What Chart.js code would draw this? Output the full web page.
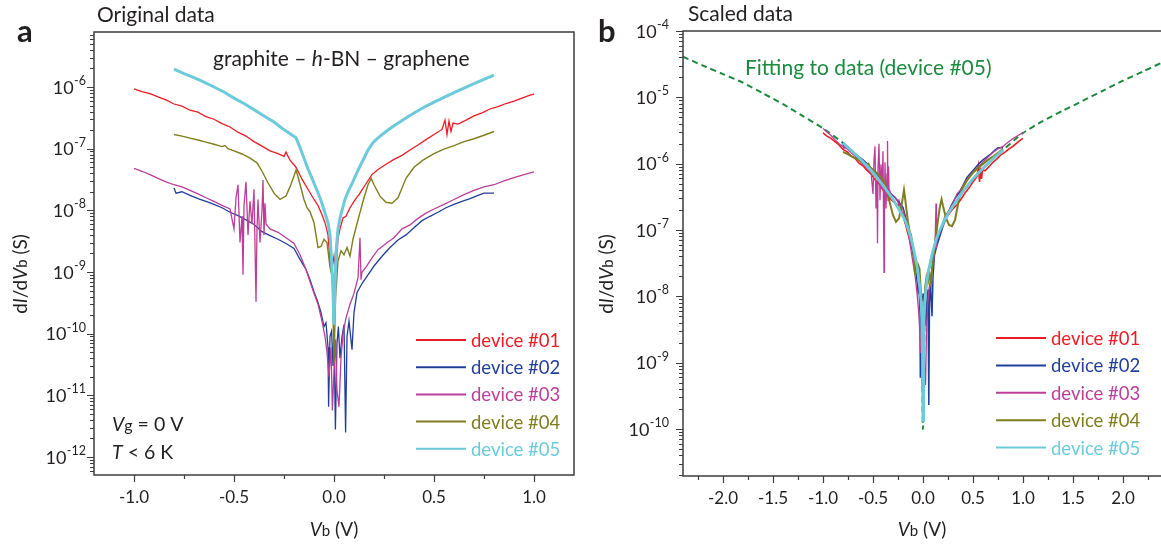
<!DOCTYPE html>
<html>
<head>
<meta charset="utf-8">
<title>dI/dVb vs Vb</title>
<script src="https://cdn.jsdelivr.net/npm/chart.js@4.4.1/dist/chart.umd.min.js"></script>
<style>
  html, body { margin: 0; padding: 0; background: #fff; overflow: hidden; }
  #wrap { position: relative; width: 1161px; height: 545px; overflow: hidden; }
  #chart-a { position: absolute; left: 0; top: 0; }
  #chart-b { position: absolute; left: 580px; top: 0; }
</style>
</head>
<body>
<div id="wrap">
  <canvas id="chart-a" width="580" height="545"></canvas>
  <canvas id="chart-b" width="600" height="545"></canvas>
</div>
<script>
'use strict';

// *** Data (Vb in V, dI/dVb in S) ***

let deviceNames = ['device #01', 'device #02', 'device #03', 'device #04', 'device #05'];

// device #01
let vDev01 = [-1.00, -0.96, -0.92, -0.88, -0.84, -0.80, -0.76, -0.72, -0.68, -0.64, -0.60, -0.56, -0.52, -0.48, -0.44, -0.40, -0.36, -0.32, -0.28, -0.25, -0.24, -0.22, -0.19, -0.16, -0.13, -0.10, -0.08, -0.06, -0.045, -0.03, -0.02, -0.01, 0.00, 0.01, 0.02, 0.03, 0.045, 0.06, 0.08, 0.10, 0.13, 0.16, 0.19, 0.22, 0.26, 0.30, 0.34, 0.38, 0.42, 0.46, 0.50, 0.54, 0.555, 0.565, 0.575, 0.585, 0.595, 0.62, 0.66, 0.70, 0.74, 0.78, 0.82, 0.86, 0.90, 0.94, 0.98, 1.00];
let gDev01a = [9.3e-7, 8.4e-7, 7.8e-7, 6.9e-7, 6.2e-7, 5.3e-7, 4.9e-7, 4.2e-7, 3.9e-7, 3.3e-7, 3.0e-7, 2.55e-7, 2.25e-7, 1.85e-7, 1.6e-7, 1.3e-7, 1.1e-7, 9.2e-8, 8.3e-8, 7.5e-8, 8.8e-8, 6.5e-8, 5.0e-8, 3.2e-8, 2.2e-8, 1.5e-8, 1.2e-8, 8.5e-9, 6.3e-9, 4.0e-9, 1.5e-9, 1.1e-9, 1.8e-9, 1.0e-9, 3.5e-9, 5.0e-9, 7.5e-9, 8.0e-9, 1.1e-8, 1.4e-8, 1.9e-8, 2.7e-8, 3.8e-8, 4.6e-8, 5.6e-8, 6.7e-8, 7.8e-8, 9.5e-8, 1.15e-7, 1.4e-7, 1.7e-7, 2.05e-7, 2.9e-7, 1.7e-7, 2.8e-7, 1.9e-7, 2.6e-7, 2.5e-7, 2.9e-7, 3.4e-7, 3.8e-7, 4.4e-7, 4.8e-7, 5.4e-7, 5.9e-7, 6.6e-7, 7.4e-7, 7.7e-7];
let gDev01b = [2.9e-6, 2.6e-6, 2.4e-6, 2.14e-6, 1.92e-6, 1.64e-6, 1.52e-6, 1.3e-6, 1.21e-6, 1.02e-6, 9.3e-7, 7.9e-7, 7.0e-7, 5.7e-7, 5.0e-7, 4.0e-7, 3.4e-7, 2.85e-7, 2.57e-7, 2.3e-7, 2.7e-7, 2.0e-7, 1.55e-7, 9.9e-8, 6.8e-8, 4.65e-8, 3.7e-8, 2.6e-8, 1.95e-8, 1.24e-8, 4.6e-9, 3.4e-9, 5.6e-9, 3.1e-9, 1.1e-8, 1.55e-8, 2.3e-8, 2.5e-8, 3.4e-8, 4.3e-8, 5.9e-8, 8.4e-8, 1.18e-7, 1.43e-7, 1.74e-7, 2.1e-7, 2.4e-7, 2.9e-7, 3.6e-7, 4.3e-7, 5.3e-7, 6.4e-7, 9.0e-7, 5.3e-7, 8.7e-7, 5.9e-7, 8.1e-7, 7.8e-7, 9.0e-7, 1.05e-6, 1.18e-6, 1.36e-6, 1.49e-6, 1.67e-6, 1.83e-6, 2.05e-6, 2.3e-6, 2.4e-6];

// device #02
let vDev02 = [-0.80, -0.79, -0.76, -0.72, -0.68, -0.64, -0.60, -0.56, -0.52, -0.48, -0.44, -0.40, -0.36, -0.32, -0.28, -0.24, -0.20, -0.17, -0.14, -0.12, -0.10, -0.08, -0.065, -0.05, -0.04, -0.03, -0.027, -0.02, -0.012, -0.005, 0.000, 0.007, 0.015, 0.022, 0.030, 0.040, 0.050, 0.058, 0.065, 0.075, 0.090, 0.100, 0.115, 0.14, 0.17, 0.20, 0.24, 0.28, 0.32, 0.36, 0.40, 0.44, 0.48, 0.52, 0.56, 0.60, 0.64, 0.68, 0.72, 0.75, 0.80];
let gDev02a = [2.3e-8, 1.9e-8, 2.0e-8, 1.75e-8, 1.55e-8, 1.4e-8, 1.25e-8, 1.1e-8, 9.3e-9, 8.2e-9, 7.0e-9, 5.9e-9, 4.5e-9, 3.9e-9, 3.4e-9, 2.9e-9, 2.4e-9, 1.6e-9, 1.1e-9, 7.5e-10, 4.8e-10, 3.2e-10, 2.2e-10, 1.3e-10, 1.5e-10, 6.0e-11, 6.5e-12, 9.0e-11, 1.1e-10, 3.0e-11, 1.2e-10, 2.8e-12, 7.0e-11, 1.3e-10, 4.0e-11, 9.0e-11, 1.4e-10, 2.5e-12, 9.0e-11, 1.6e-10, 5.5e-11, 2.2e-10, 4.6e-10, 6.5e-10, 9.0e-10, 1.25e-9, 1.8e-9, 2.5e-9, 3.3e-9, 4.0e-9, 5.2e-9, 6.8e-9, 8.0e-9, 9.3e-9, 1.1e-8, 1.25e-8, 1.4e-8, 1.55e-8, 1.75e-8, 1.9e-8, 1.9e-8];
let gDev02b = [2.1e-6, 1.73e-6, 1.82e-6, 1.6e-6, 1.41e-6, 1.27e-6, 1.14e-6, 1.0e-6, 8.5e-7, 7.5e-7, 6.4e-7, 5.4e-7, 4.1e-7, 3.5e-7, 3.1e-7, 2.6e-7, 2.2e-7, 1.46e-7, 1.0e-7, 6.8e-8, 4.4e-8, 2.9e-8, 2.0e-8, 1.18e-8, 1.37e-8, 5.5e-9, 5.9e-10, 8.2e-9, 1.0e-8, 2.7e-9, 1.1e-8, 2.5e-10, 6.4e-9, 1.18e-8, 3.6e-9, 8.2e-9, 1.27e-8, 2.3e-10, 8.2e-9, 1.46e-8, 5.0e-9, 2.0e-8, 4.2e-8, 5.9e-8, 8.2e-8, 1.14e-7, 1.64e-7, 2.3e-7, 3.0e-7, 3.6e-7, 4.7e-7, 6.2e-7, 7.3e-7, 8.5e-7, 1.0e-6, 1.14e-6, 1.27e-6, 1.41e-6, 1.6e-6, 1.73e-6, 1.73e-6];

// device #03
let vDev03 = [-1.00, -0.96, -0.92, -0.88, -0.84, -0.80, -0.76, -0.72, -0.68, -0.64, -0.60, -0.56, -0.52, -0.50, -0.49, -0.48, -0.47, -0.46, -0.455, -0.45, -0.44, -0.43, -0.42, -0.41, -0.40, -0.39, -0.385, -0.38, -0.37, -0.36, -0.355, -0.35, -0.345, -0.34, -0.32, -0.28, -0.24, -0.20, -0.17, -0.14, -0.12, -0.10, -0.08, -0.06, -0.045, -0.035, -0.025, -0.015, -0.008, 0.000, 0.008, 0.015, 0.025, 0.035, 0.045, 0.06, 0.08, 0.10, 0.12, 0.13, 0.135, 0.14, 0.16, 0.19, 0.22, 0.26, 0.30, 0.34, 0.38, 0.42, 0.46, 0.50, 0.55, 0.60, 0.65, 0.70, 0.75, 0.80, 0.85, 0.90, 0.95, 1.00];
let gDev03a = [4.8e-8, 4.3e-8, 3.8e-8, 3.3e-8, 2.9e-8, 2.6e-8, 2.4e-8, 2.1e-8, 1.85e-8, 1.6e-8, 1.4e-8, 1.2e-8, 1.05e-8, 5.0e-9, 1.6e-8, 2.6e-8, 3.0e-9, 8.0e-9, 9.0e-10, 1.2e-8, 2.9e-8, 4.0e-9, 1.4e-8, 6.0e-9, 2.2e-8, 3.3e-10, 5.0e-9, 1.5e-8, 3.0e-9, 1.0e-8, 3.1e-8, 4.0e-9, 1.3e-8, 6.0e-9, 5.0e-9, 4.4e-9, 3.6e-9, 2.9e-9, 1.9e-9, 1.1e-9, 7.0e-10, 4.5e-10, 3.0e-10, 1.6e-10, 9.0e-11, 5.0e-11, 2.0e-11, 6.0e-11, 5.7e-12, 2.5e-11, 8.0e-11, 1.2e-11, 6.5e-12, 4.0e-11, 1.0e-10, 1.8e-10, 3.0e-10, 4.5e-10, 8.0e-10, 3.6e-9, 7.5e-10, 1.0e-9, 1.2e-9, 1.7e-9, 2.3e-9, 2.9e-9, 3.6e-9, 5.0e-9, 5.8e-9, 7.4e-9, 9.0e-9, 1.05e-8, 1.25e-8, 1.5e-8, 1.8e-8, 2.1e-8, 2.4e-8, 2.6e-8, 3.0e-8, 3.4e-8, 3.8e-8, 4.2e-8];
let gDev03b = [3.4e-6, 3.0e-6, 2.66e-6, 2.3e-6, 2.0e-6, 1.82e-6, 1.68e-6, 1.47e-6, 1.3e-6, 1.12e-6, 9.8e-7, 8.4e-7, 7.4e-7, 3.5e-7, 1.12e-6, 1.82e-6, 2.1e-7, 5.6e-7, 6.3e-8, 8.4e-7, 2.0e-6, 2.8e-7, 9.8e-7, 4.2e-7, 1.54e-6, 2.3e-8, 3.5e-7, 1.05e-6, 2.1e-7, 7.0e-7, 2.2e-6, 2.8e-7, 9.1e-7, 4.2e-7, 3.5e-7, 3.1e-7, 2.5e-7, 2.0e-7, 1.33e-7, 7.7e-8, 4.9e-8, 3.2e-8, 2.1e-8, 1.12e-8, 6.3e-9, 3.5e-9, 1.4e-9, 4.2e-9, 4.0e-10, 1.75e-9, 5.6e-9, 8.4e-10, 4.6e-10, 2.8e-9, 7.0e-9, 1.26e-8, 2.1e-8, 3.2e-8, 5.6e-8, 2.5e-7, 5.3e-8, 7.0e-8, 8.4e-8, 1.19e-7, 1.61e-7, 2.0e-7, 2.5e-7, 3.5e-7, 4.1e-7, 5.2e-7, 6.3e-7, 7.4e-7, 8.8e-7, 1.05e-6, 1.26e-6, 1.47e-6, 1.68e-6, 1.82e-6, 2.1e-6, 2.4e-6, 2.66e-6, 2.94e-6];

// device #04
let vDev04 = [-0.80, -0.76, -0.72, -0.68, -0.64, -0.60, -0.56, -0.545, -0.53, -0.50, -0.46, -0.42, -0.385, -0.36, -0.33, -0.30, -0.27, -0.24, -0.22, -0.20, -0.19, -0.18, -0.165, -0.15, -0.135, -0.12, -0.10, -0.08, -0.065, -0.05, -0.035, -0.02, -0.008, 0.000, 0.008, 0.02, 0.035, 0.05, 0.065, 0.08, 0.095, 0.12, 0.15, 0.17, 0.186, 0.20, 0.23, 0.26, 0.29, 0.32, 0.36, 0.40, 0.445, 0.50, 0.55, 0.60, 0.65, 0.70, 0.75, 0.80];
let gDev04a = [1.7e-7, 1.6e-7, 1.48e-7, 1.38e-7, 1.28e-7, 1.18e-7, 1.08e-7, 1.12e-7, 1.0e-7, 9.2e-8, 8.2e-8, 7.0e-8, 5.9e-8, 4.3e-8, 2.8e-8, 1.9e-8, 1.5e-8, 1.7e-8, 2.4e-8, 3.6e-8, 4.5e-8, 3.5e-8, 2.3e-8, 1.5e-8, 1.1e-8, 9.5e-9, 6.3e-9, 2.5e-9, 2.6e-9, 3.4e-9, 3.0e-9, 1.2e-9, 8.0e-10, 3.3e-11, 4.0e-10, 1.5e-9, 2.2e-9, 1.9e-9, 2.5e-9, 1.8e-9, 3.4e-9, 7.0e-9, 1.6e-8, 2.6e-8, 3.3e-8, 2.6e-8, 1.7e-8, 1.35e-8, 1.3e-8, 1.6e-8, 3.3e-8, 5.0e-8, 6.5e-8, 8.3e-8, 9.8e-8, 1.12e-7, 1.3e-7, 1.45e-7, 1.65e-7, 1.9e-7];
let gDev04b = [1.5e-6, 1.41e-6, 1.3e-6, 1.21e-6, 1.13e-6, 1.04e-6, 9.5e-7, 9.9e-7, 8.8e-7, 8.1e-7, 7.2e-7, 6.2e-7, 5.2e-7, 3.8e-7, 2.5e-7, 1.67e-7, 1.32e-7, 1.5e-7, 2.1e-7, 3.2e-7, 4.0e-7, 3.1e-7, 2.0e-7, 1.32e-7, 9.7e-8, 8.4e-8, 5.5e-8, 2.2e-8, 2.3e-8, 3.0e-8, 2.6e-8, 1.06e-8, 7.0e-9, 2.9e-10, 3.5e-9, 1.32e-8, 1.94e-8, 1.67e-8, 2.2e-8, 1.58e-8, 3.0e-8, 6.2e-8, 1.41e-7, 2.3e-7, 2.9e-7, 2.3e-7, 1.5e-7, 1.19e-7, 1.14e-7, 1.41e-7, 2.9e-7, 4.4e-7, 5.7e-7, 7.3e-7, 8.6e-7, 9.9e-7, 1.14e-6, 1.28e-6, 1.45e-6, 1.67e-6];

// device #05
let vDev05 = [-0.80, -0.75, -0.70, -0.65, -0.60, -0.55, -0.50, -0.45, -0.40, -0.35, -0.30, -0.26, -0.22, -0.19, -0.17, -0.15, -0.13, -0.11, -0.09, -0.07, -0.055, -0.04, -0.03, -0.02, -0.012, -0.006, 0.000, 0.006, 0.012, 0.02, 0.03, 0.04, 0.055, 0.07, 0.09, 0.11, 0.13, 0.15, 0.17, 0.195, 0.22, 0.26, 0.30, 0.35, 0.40, 0.45, 0.50, 0.55, 0.60, 0.65, 0.70, 0.75, 0.80];
let gDev05a = [1.95e-6, 1.65e-6, 1.42e-6, 1.2e-6, 1.0e-6, 8.3e-7, 6.6e-7, 5.4e-7, 4.3e-7, 3.4e-7, 2.7e-7, 2.15e-7, 1.75e-7, 1.5e-7, 1.05e-7, 7.0e-8, 4.7e-8, 3.3e-8, 2.3e-8, 1.6e-8, 1.15e-8, 8.0e-9, 6.3e-9, 4.0e-9, 1.5e-9, 6.0e-10, 1.4e-10, 8.0e-10, 2.5e-9, 5.0e-9, 7.5e-9, 1.0e-8, 1.5e-8, 2.0e-8, 2.7e-8, 3.8e-8, 5.2e-8, 7.0e-8, 9.5e-8, 1.25e-7, 1.5e-7, 1.9e-7, 2.35e-7, 3.0e-7, 3.8e-7, 4.7e-7, 5.7e-7, 6.8e-7, 8.1e-7, 9.6e-7, 1.13e-6, 1.33e-6, 1.56e-6];
let gDev05b = [2.05e-6, 1.75e-6, 1.5e-6, 1.27e-6, 1.07e-6, 8.9e-7, 7.3e-7, 5.9e-7, 4.7e-7, 3.7e-7, 2.9e-7, 2.3e-7, 1.8e-7, 1.5e-7, 1.3e-7, 1.05e-7, 8.5e-8, 6.5e-8, 4.8e-8, 3.4e-8, 2.5e-8, 1.7e-8, 1.25e-8, 8.5e-9, 4.5e-9, 1.5e-9, 1.35e-10, 1.8e-9, 5.0e-9, 9.0e-9, 1.3e-8, 1.75e-8, 2.4e-8, 3.1e-8, 4.2e-8, 5.5e-8, 7.0e-8, 8.5e-8, 1.0e-7, 1.2e-7, 1.45e-7, 1.85e-7, 2.3e-7, 2.95e-7, 3.8e-7, 4.8e-7, 5.9e-7, 7.1e-7, 8.5e-7, 1.0e-6, 1.18e-6, 1.38e-6, 1.6e-6];

// fitting curve (device #05), panel b
let vFit = [-2.4, -2.2, -2.0, -1.8, -1.6, -1.4, -1.2, -1.0, -0.8, -0.6, -0.4, -0.3, -0.2, -0.1, -0.05, -0.02, 0.0, 0.02, 0.05, 0.1, 0.2, 0.3, 0.4, 0.6, 0.8, 1.0, 1.2, 1.4, 1.6, 1.8, 2.0, 2.2, 2.4];
let gFit = [4.1e-5, 3.0e-5, 2.24e-5, 1.66e-5, 1.15e-5, 7.9e-6, 5.2e-6, 3.4e-6, 2.05e-6, 1.07e-6, 4.7e-7, 2.9e-7, 1.6e-7, 5.5e-8, 2.2e-8, 8.5e-9, 1.0e-10, 9.0e-9, 2.2e-8, 4.8e-8, 1.25e-7, 2.3e-7, 3.8e-7, 8.5e-7, 1.6e-6, 2.9e-6, 4.4e-6, 6.3e-6, 8.9e-6, 1.26e-5, 1.78e-5, 2.45e-5, 3.4e-5];

// tick labels
let xTicksA = [-1.0, -0.5, 0.0, 0.5, 1.0];
let xTicksB = [-2.0, -1.5, -1.0, -0.5, 0.0, 0.5, 1.0, 1.5, 2.0];
let yDecadesA = [-12, -11, -10, -9, -8, -7, -6];
let yDecadesB = [-10, -9, -8, -7, -6, -5, -4];

// *** Styles ***

const FONT = 'Lato, "Open Sans", sans-serif';
const TEXT = '#231f20';
const AXIS = '#3d3d3d';
const FIT_GREEN = '#1b8a3e';

let deviceColors = ['#ec1c24', '#213f9a', '#bb3f98', '#7e7e1e', '#6ccadb'];
let widthsA = [1.3, 1.3, 1.3, 1.4, 3];
let widthsB = [1.6, 1.5, 1.3, 2, 2.8];
let drawOrder = [4, 3, 2, 1, 0];

// *** Helpers ***

function toPoints(v, g) {
  return v.map((x, i) => ({ x: x, y: g[i] }));
}

function fontOf(part, item) {
  let size = part.size || item.size;
  return (part.italic ? 'italic ' : '') + (part.bold ? 'bold ' : '') + size + 'px ' + FONT;
}

// draw a line of text made of parts with their own style
function drawRich(ctx, item) {
  ctx.save();
  ctx.translate(item.x, item.y);
  if (item.rotate) {
    ctx.rotate(item.rotate);
  }
  ctx.textBaseline = 'alphabetic';
  ctx.textAlign = 'left';
  ctx.fillStyle = item.color || TEXT;
  let total = 0;
  let widths = item.parts.map(p => {
    ctx.font = fontOf(p, item);
    let w = ctx.measureText(p.t).width;
    total += w;
    return w;
  });
  let x = item.align === 'center' ? -total / 2 : 0;
  item.parts.forEach((p, i) => {
    ctx.font = fontOf(p, item);
    ctx.fillText(p.t, x, p.dy || 0);
    x += widths[i];
  });
  ctx.restore();
}

// frame, outward tick marks, 10^n labels, legend and annotations
const figurePlugin = {
  id: 'figure',
  afterDraw(chart, args, opts) {
    let ctx = chart.ctx;
    let area = chart.chartArea;
    let xs = chart.scales.x;
    let ys = chart.scales.y;
    ctx.save();

    ctx.strokeStyle = AXIS;
    ctx.lineWidth = 1.2;
    ctx.beginPath();
    for (let k = Math.ceil(xs.min / 0.25 - 1e-9); k <= Math.floor(xs.max / 0.25 + 1e-9); k++) {
      let px = Math.round(xs.getPixelForValue(k * 0.25)) + 0.5;
      let len = k % 2 === 0 ? 7 : 4;
      ctx.moveTo(px, area.bottom);
      ctx.lineTo(px, area.bottom + len);
    }
    for (let e = Math.floor(Math.log10(ys.min)); e <= Math.ceil(Math.log10(ys.max)); e++) {
      for (let m = 1; m <= 9; m++) {
        let v = m * Math.pow(10, e);
        if (v < ys.min * 0.999 || v > ys.max * 1.001) {
          continue;
        }
        let py = Math.round(ys.getPixelForValue(v)) + 0.5;
        let len = m === 1 ? 7 : 4;
        ctx.moveTo(area.left - len, py);
        ctx.lineTo(area.left, py);
      }
    }
    ctx.stroke();

    ctx.lineWidth = 1.5;
    ctx.strokeRect(area.left, area.top, area.right - area.left, area.bottom - area.top);

    // y tick labels as 10 with raised exponent
    ctx.fillStyle = TEXT;
    ctx.textBaseline = 'middle';
    ctx.textAlign = 'left';
    opts.decades.forEach(e => {
      let py = ys.getPixelForValue(Math.pow(10, e));
      let sup = String(e);
      ctx.font = '12.5px ' + FONT;
      let supW = ctx.measureText(sup).width;
      ctx.font = '18px ' + FONT;
      let baseW = ctx.measureText('10').width;
      let right = area.left - opts.labelGap;
      ctx.fillText('10', right - supW - baseW - 0.5, py + 1);
      ctx.font = '12.5px ' + FONT;
      ctx.fillText(sup, right - supW, py - 6);
    });

    // legend
    let lg = opts.legend;
    let row = 0;
    chart.data.datasets.forEach(ds => {
      if (ds.isFit) {
        return;
      }
      let y = lg.y0 + row * lg.dy;
      ctx.strokeStyle = ds.borderColor;
      ctx.lineWidth = 2;
      ctx.beginPath();
      ctx.moveTo(lg.x1, y);
      ctx.lineTo(lg.x2, y);
      ctx.stroke();
      ctx.fillStyle = ds.borderColor;
      ctx.font = lg.size + 'px ' + FONT;
      ctx.textBaseline = 'middle';
      ctx.fillText(ds.label, lg.tx, y + 1);
      row++;
    });

    opts.texts.forEach(item => drawRich(ctx, item));
    ctx.restore();
  }
};

function chartOptions(cfg) {
  return {
    responsive: false,
    animation: false,
    devicePixelRatio: 1,
    parsing: false,
    layout: { padding: { left: 0, right: cfg.padRight, top: cfg.padTop, bottom: 0 } },
    plugins: {
      legend: { display: false },
      tooltip: { enabled: false },
      figure: cfg.figure
    },
    scales: {
      x: {
        type: 'linear',
        min: cfg.xMin,
        max: cfg.xMax,
        afterFit: s => { s.height = cfg.xHeight; },
        afterBuildTicks: s => { s.ticks = cfg.xTicks.map(v => ({ value: v })); },
        grid: { display: false, drawTicks: false },
        border: { display: false },
        ticks: {
          padding: 12,
          color: TEXT,
          font: { family: FONT, size: 17 },
          maxRotation: 0,
          autoSkip: false,
          callback: v => Number(v).toFixed(1)
        }
      },
      y: {
        type: 'logarithmic',
        min: cfg.yMin,
        max: cfg.yMax,
        afterFit: s => { s.width = cfg.yWidth; },
        grid: { display: false, drawTicks: false },
        border: { display: false },
        ticks: { display: false }
      }
    }
  };
}

function yTitle(x) {
  return {
    x: x, y: 274, size: 19, align: 'center', rotate: -Math.PI / 2,
    parts: [{ t: 'd' }, { t: 'I', italic: true }, { t: '/d' }, { t: 'V', italic: true }, { t: 'b', size: 15 }, { t: ' (S)' }]
  };
}

function xTitle(x) {
  return {
    x: x, y: 536, size: 19, align: 'center',
    parts: [{ t: 'V', italic: true }, { t: 'b', size: 15 }, { t: ' (V)' }]
  };
}

// *** Panel a: original data ***

let setsA = [
  [vDev01, gDev01a], [vDev02, gDev02a], [vDev03, gDev03a], [vDev04, gDev04a], [vDev05, gDev05a]
].map((s, i) => ({
  label: deviceNames[i],
  data: toPoints(s[0], s[1]),
  borderColor: deviceColors[i],
  backgroundColor: deviceColors[i],
  borderWidth: widthsA[i],
  pointRadius: 0,
  tension: 0,
  order: drawOrder[i]
}));

new Chart(document.getElementById('chart-a'), {
  type: 'line',
  data: { datasets: setsA },
  options: chartOptions({
    padRight: 6, padTop: 32, xHeight: 70, yWidth: 94,
    xMin: -1.2, xMax: 1.2, yMin: 5.1e-13, yMax: 7.8e-6, xTicks: xTicksA,
    figure: {
      decades: yDecadesA,
      labelGap: 8,
      legend: { x1: 416, x2: 466, tx: 471, y0: 340, dy: 27.2, size: 18.5 },
      texts: [
        { x: 17, y: 42, size: 31, parts: [{ t: 'a', bold: true }] },
        { x: 97, y: 22, size: 21, parts: [{ t: 'Original data' }] },
        { x: 213, y: 66, size: 21, parts: [{ t: 'graphite – ' }, { t: 'h', italic: true }, { t: '-BN – graphene' }] },
        { x: 112, y: 431, size: 19.5, parts: [{ t: 'V', italic: true }, { t: 'g', size: 16 }, { t: ' = 0 V' }] },
        { x: 112, y: 459, size: 19.5, parts: [{ t: 'T', italic: true }, { t: ' < 6 K' }] },
        xTitle(334),
        yTitle(27)
      ]
    }
  }),
  plugins: [figurePlugin]
});

// *** Panel b: scaled data ***

let setsB = [
  [vDev01, gDev01b], [vDev02, gDev02b], [vDev03, gDev03b], [vDev04, gDev04b], [vDev05, gDev05b]
].map((s, i) => ({
  label: deviceNames[i],
  data: toPoints(s[0], s[1]),
  borderColor: deviceColors[i],
  backgroundColor: deviceColors[i],
  borderWidth: widthsB[i],
  pointRadius: 0,
  tension: 0,
  order: drawOrder[i]
}));

setsB.push({
  label: 'Fitting to data (device #05)',
  isFit: true,
  data: toPoints(vFit, gFit),
  borderColor: FIT_GREEN,
  backgroundColor: FIT_GREEN,
  borderWidth: 2,
  borderDash: [6, 4],
  pointRadius: 0,
  tension: 0.2,
  order: 9
});

new Chart(document.getElementById('chart-b'), {
  type: 'line',
  data: { datasets: setsB },
  options: chartOptions({
    padRight: 17, padTop: 31, xHeight: 69, yWidth: 103,
    xMin: -2.4, xMax: 2.4, yMin: 1.95e-11, yMax: 1e-4, xTicks: xTicksB,
    figure: {
      decades: yDecadesB,
      labelGap: 14,
      legend: { x1: 416, x2: 466, tx: 471, y0: 338, dy: 27.4, size: 18.5 },
      texts: [
        { x: 18, y: 42, size: 31, parts: [{ t: 'b', bold: true }] },
        { x: 108, y: 21, size: 21, parts: [{ t: 'Scaled data' }] },
        { x: 165, y: 75, size: 21, color: FIT_GREEN, parts: [{ t: 'Fitting to data (device #05)' }] },
        xTitle(342),
        yTitle(33)
      ]
    }
  }),
  plugins: [figurePlugin]
});
</script>
</body>
</html>
